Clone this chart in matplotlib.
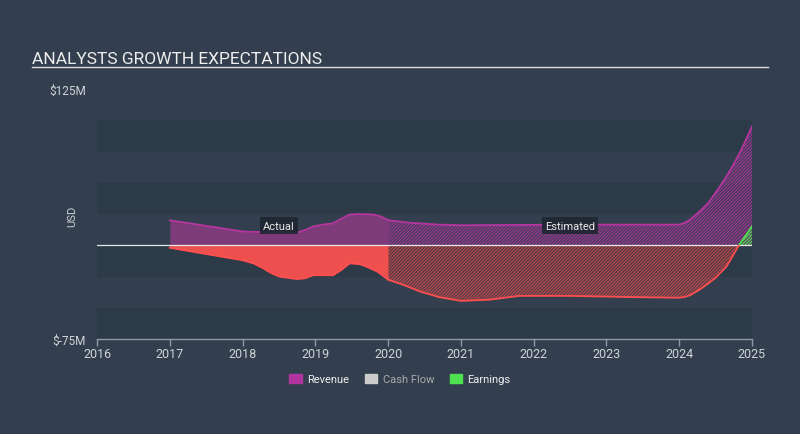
import numpy as np
import matplotlib
matplotlib.use("Agg")
import matplotlib.pyplot as plt
from matplotlib.patches import Patch, Rectangle
from matplotlib.lines import Line2D

plt.rcParams['font.family'] = ['Roboto', 'DejaVu Sans']
plt.rcParams['hatch.linewidth'] = 0.7

# --- data (USD millions) ---
years = [2016, 2017, 2018, 2019, 2020, 2021, 2022, 2023, 2024, 2025]

rev_act_x = [2017.0, 2017.5, 2018.0, 2018.27, 2018.5, 2018.74, 2018.85, 2018.97,
             2019.1, 2019.24, 2019.35, 2019.47, 2019.6, 2019.8, 2019.9, 2020.0]
rev_act_y = [20, 15.5, 11, 10.5, 10.4, 10, 12, 15, 16.5, 17.5, 21, 24.6, 25, 24.6, 23, 20]

rev_est_x = [2020.0, 2020.3, 2020.7, 2021.0, 2022.0, 2023.0, 2024.0, 2024.08, 2024.15,
             2024.28, 2024.4, 2024.5, 2024.65, 2024.75, 2024.85, 2025.0]
rev_est_y = [20, 18, 16.5, 16, 16.3, 16.5, 16.5, 18, 20.5, 27, 34, 42, 55, 65, 76, 95]

cf_act_x = [2017.0, 2017.5, 2018.0, 2018.15, 2018.27, 2018.4, 2018.5, 2018.74,
            2018.85, 2018.97, 2019.24, 2019.35, 2019.47, 2019.6, 2019.7, 2019.85, 2020.0]
cf_act_y = [-2, -7, -12, -14.5, -18, -22.5, -25, -27, -26.5, -24, -24, -20,
            -14.5, -15, -17, -21, -27.5]

cf_est_x = [2020.0, 2020.2, 2020.44, 2020.7, 2021.0, 2021.4, 2021.8, 2022.5,
            2023.4, 2024.0, 2024.08, 2024.15, 2024.28, 2024.4, 2024.5, 2024.65,
            2024.82, 2025.0]
cf_est_y = [-27.5, -31.5, -37, -41.5, -44.5, -43.5, -40.5, -40.5, -41.5, -42,
            -41.3, -40, -35.5, -30.5, -26, -17, 0, 12]

earn_est_x = [2024.0, 2024.28, 2024.65, 2024.82, 2025.0]
earn_est_y = [-42, -35.5, -17, 0, 15]

# --- colours ---
BG = '#333f4e'
BAND = '#2d3a48'
REV = '#b5369f'
REV_FILL = '#7d3b79'
CF = '#ff4f4f'
CF_FILL = '#ee5050'
EARN = '#4fe04f'
AXIS = '#8d99a6'
TXT = '#d0d4d8'

fig = plt.figure(figsize=(8, 4.35), dpi=100, facecolor=BG)
ax = fig.add_axes([97 / 800, 1 - 340 / 435, 655 / 800, 250 / 435])
ax.set_facecolor(BG)
ax.set_xlim(2016, 2025)
ax.set_ylim(-75, 125)

# horizontal bands
for lo in [75, 25, -25, -75]:
    ax.axhspan(lo, lo + 25, color=BAND, lw=0, zorder=0)

clip_neg = Rectangle((2016, -75), 9, 75, transform=ax.transData)
clip_pos = Rectangle((2016, 0), 9, 125, transform=ax.transData)

# actual (solid)
ax.fill_between(rev_act_x, 0, rev_act_y, color=REV_FILL, lw=0, zorder=2)
ax.plot(rev_act_x, rev_act_y, color=REV, lw=1.3, zorder=4)
ax.fill_between(cf_act_x, 0, cf_act_y, color=CF_FILL, lw=0, zorder=2)
ax.plot(cf_act_x, cf_act_y, color=CF, lw=1.3, zorder=4)

# estimated (hatched)
ax.fill_between(rev_est_x, 0, rev_est_y, facecolor=(0.49, 0.23, 0.47, 0.3),
                edgecolor='#a3379a', hatch='//////////', lw=0, zorder=2)
ax.plot(rev_est_x, rev_est_y, color=REV, lw=1.3, zorder=4)

f = ax.fill_between(cf_est_x, 0, cf_est_y, facecolor=(0.93, 0.31, 0.31, 0.18),
                    edgecolor='#c94545', hatch='//////////', lw=0, zorder=2)
f.set_clip_path(clip_neg)
ln, = ax.plot(cf_est_x, cf_est_y, color=CF, lw=1.3, zorder=4)
ln.set_clip_path(clip_neg)

f = ax.fill_between(earn_est_x, 0, earn_est_y, facecolor=(0.3, 0.88, 0.3, 0.15),
                    edgecolor=EARN, hatch='//////////', lw=0, zorder=3)
f.set_clip_path(clip_pos)
ln, = ax.plot(earn_est_x, earn_est_y, color=EARN, lw=1.3, zorder=5)
ln.set_clip_path(clip_pos)

# zero line
ax.axhline(0, color='#e8e8e8', lw=0.9, zorder=3)

# labels Actual / Estimated
box = dict(boxstyle='square,pad=0.3', fc='#1e2631', ec='none', alpha=0.9)
ax.text(2018.5, 15.7, 'Actual', color='#e8e8e8', fontsize=8, ha='center',
        va='center', bbox=box, zorder=6)
ax.text(2022.5, 15.7, 'Estimated', color='#e8e8e8', fontsize=8, ha='center',
        va='center', bbox=box, zorder=6)

# axes styling
for s in ['top', 'right', 'left']:
    ax.spines[s].set_visible(False)
ax.spines['bottom'].set_color(AXIS)
ax.spines['bottom'].set_linewidth(1)
ax.set_xticks(years)
ax.set_xticklabels([str(y) for y in years])
ax.tick_params(axis='x', colors=AXIS, labelcolor=TXT, length=5, width=1,
               labelsize=9, pad=1)
ax.set_yticks([-75, 125])
ax.set_yticklabels(['$-75M', '$125M'])
ax.tick_params(axis='y', length=0, labelcolor=TXT, labelsize=8.5, pad=8)

fig.text(72 / 800, 1 - 216 / 435, 'USD', rotation=90, color=TXT, fontsize=8,
         ha='center', va='center')

# title
fig.text(32 / 800, 1 - 64 / 435, 'ANALYSTS GROWTH EXPECTATIONS', color='#eeeeee',
         fontsize=12.5, ha='left', va='baseline')
fig.add_artist(Line2D([32 / 800, 768 / 800], [1 - 68 / 435, 1 - 68 / 435],
                      color='#dddddd', lw=1))

# legend
handles = [Patch(color='#b0359e'), Patch(color='#cccccc'), Patch(color=EARN)]
leg = fig.legend(handles, ['Revenue', 'Cash Flow', 'Earnings'], ncol=3,
                 loc='center', bbox_to_anchor=(0.5, 1 - 380 / 435), frameon=False,
                 fontsize=8, handlelength=1.1, handleheight=0.9, columnspacing=1.4,
                 handletextpad=0.5)
for t, c in zip(leg.get_texts(), ['#eeeeee', '#aaaaaa', '#eeeeee']):
    t.set_color(c)

fig.savefig('out.png', dpi=100, facecolor=BG)
